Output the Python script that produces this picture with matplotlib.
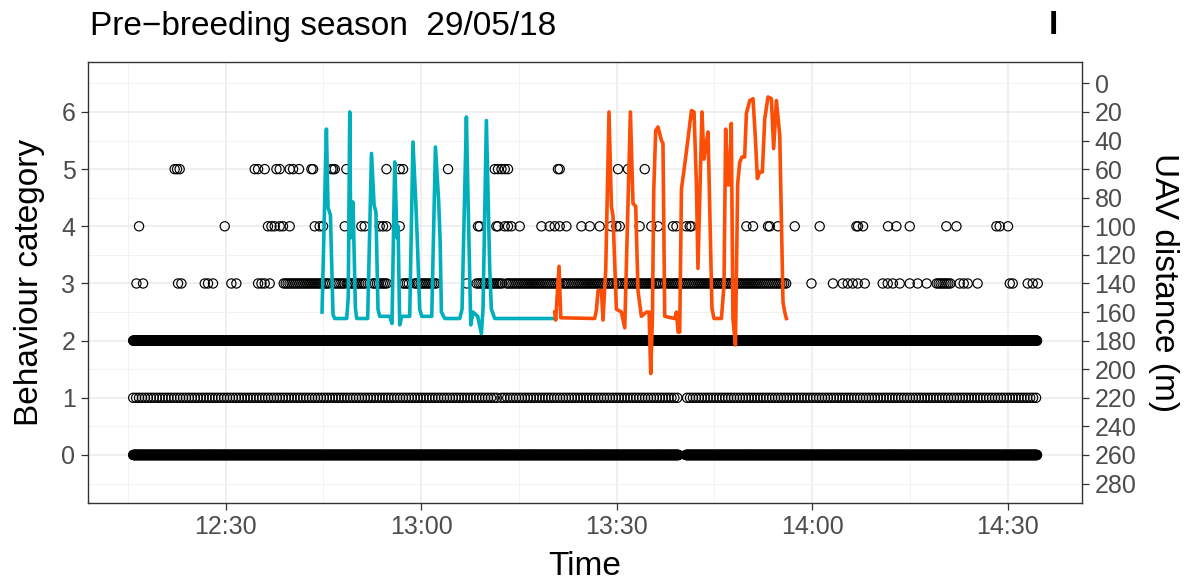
import numpy as np
import matplotlib.pyplot as plt
import matplotlib.dates as mdates

plt.rcParams['font.family'] = ['Liberation Sans', 'DejaVu Sans']

# all times are minutes after 12:00 on 29/05/18
start = np.datetime64('2018-05-29T12:00:00')

# behaviour scans: runs of consecutive records (start, end) per category
cat0_runs = [(15.8, 99.5), (100.6, 154.5)]
cat1_runs = [(15.8, 71.5), (72.3, 99.2), (100.8, 154.5)]
cat2_runs = [(15.8, 154.5)]
cat3_runs = [(38.9, 45.9), (46.7, 48.3), (48.7, 51.3), (52.6, 54.7), (57.2, 58.2),
             (59.0, 62.4), (68.5, 72.5), (73.1, 81.3), (81.7, 89.4), (90.0, 96.6),
             (97.1, 116.1), (139.1, 141.1)]
scan_step = {0: 0.05, 1: 0.45, 2: 0.05, 3: 0.3}

# isolated records
cat3_times = [16.30, 17.31, 22.68, 23.20, 26.78, 27.28, 28.05, 30.87, 31.64, 34.96,
              35.48, 35.98, 36.75, 66.98, 119.88, 123.19, 124.68, 125.45, 126.22,
              126.98, 128.06, 130.82, 131.59, 132.36, 133.43, 134.96, 136.19, 137.57,
              142.63, 143.25, 143.86, 145.39, 150.31, 150.77, 153.07, 153.84, 154.61]
cat4_times = [16.70, 29.85, 36.49, 37.01, 37.52, 38.29, 38.79, 39.82, 43.66, 44.42,
              44.93, 48.26, 50.82, 51.33, 53.63, 54.14, 54.66, 56.70, 68.72, 68.98,
              71.54, 71.79, 72.81, 73.32, 73.84, 75.12, 78.45, 79.72, 80.49, 81.25,
              82.28, 84.58, 85.86, 87.39, 89.19, 89.95, 90.46, 93.52, 95.32, 96.34,
              98.64, 99.16, 100.69, 101.20, 101.46, 109.90, 110.92, 113.22, 113.48,
              114.75, 117.31, 121.15, 126.78, 127.03, 127.80, 131.63, 132.92, 134.96,
              140.59, 142.13, 148.26, 148.77, 150.05]
cat5_times = [22.17, 22.53, 22.94, 34.45, 34.96, 35.98, 37.78, 38.29, 39.82, 40.33,
              41.25, 43.15, 43.40, 46.22, 46.47, 46.73, 48.52, 54.66, 56.70, 57.21,
              64.11, 71.28, 71.78, 72.31, 72.81, 73.32, 80.99, 81.25, 90.20, 91.73,
              94.30]

# UAV distance (m), first and second flight
flight1_min = [44.78, 45.45, 45.70, 46.07, 46.47, 46.73, 48.57, 48.80, 49.03, 49.18,
               49.53, 49.90, 50.10, 51.79, 52.36, 52.76, 53.05, 53.37, 53.63, 55.17,
               55.52, 55.93, 56.29, 56.45, 56.70, 57.01, 58.24, 58.74, 59.16, 59.40,
               59.77, 60.08, 61.61, 62.18, 62.69, 62.90, 63.10, 63.61, 65.91, 66.26,
               66.94, 67.18, 67.60, 67.95, 68.67, 69.24, 69.48, 70.00, 70.51, 70.77,
               71.28, 80.49]
flight1_dist = [160, 32, 87, 92, 162, 164.5, 164.5, 150, 20, 108,
                83, 157, 164.5, 164.5, 49, 85, 90, 158, 163, 163,
                168, 55, 108, 100, 169, 163, 163, 41, 83, 110,
                158, 163, 163, 44.5, 83, 110, 160, 164.5, 164.5, 158,
                23.5, 80, 169, 160, 163, 175, 158, 26, 130, 158,
                164.5, 164.5]
flight2_min = [80.49, 80.64, 81.15, 81.41, 86.62, 86.89, 87.13, 87.65, 87.90, 88.31,
               88.82, 89.19, 89.43, 89.95, 90.72, 91.23, 92.10, 92.50, 92.92, 93.27,
               93.79, 94.56, 94.96, 95.22, 95.48, 95.68, 95.98, 96.34, 96.86, 97.10,
               97.37, 98.90, 99.16, 99.41, 99.67, 99.93, 100.43, 100.94, 101.46, 101.86,
               102.23, 102.47, 103.09, 103.39, 103.65, 104.01, 104.62, 104.93, 106.06, 106.46,
               106.72, 107.07, 107.26, 107.59, 107.84, 108.21, 108.56, 108.89, 109.23, 109.64,
               109.90, 110.41, 110.92, 111.28, 111.59, 111.94, 112.35, 112.71, 113.21, 113.73,
               114.09, 114.50, 115.01, 115.52, 115.78, 116.04]
flight2_dist = [160, 165.6, 128, 164, 164.5, 158.6, 145, 145, 165.6, 130,
                20, 86, 93, 158, 160, 171, 20, 84, 86, 145,
                163, 160, 160, 203, 163, 75, 33, 30.5, 40, 42,
                163, 164.5, 160, 174, 174, 74, 57, 39, 19, 20,
                71, 129.5, 20, 53, 45, 34, 157.5, 164.5, 164.5, 141,
                32, 71, 71, 28, 164.5, 183, 70, 55, 51.5, 51.5,
                21, 12, 10.7, 38.7, 66.6, 62, 62, 24.7, 9.5, 10.7,
                45.6, 12, 36, 153, 160, 164.5]


def to_time(minutes):
    secs = np.round(np.asarray(minutes, dtype=float) * 60).astype('timedelta64[s]')
    return start + secs


def expand(runs, step):
    out = []
    for a, b in runs:
        out.extend(np.arange(a, b + step / 2, step))
    return np.array(out)


# distance axis sits on top of the behaviour scale: 0 m -> 6.5, 260 m -> 0
def dist_to_cat(d):
    return 6.5 - np.asarray(d, dtype=float) / 40.0


def cat_to_dist(c):
    return (6.5 - np.asarray(c, dtype=float)) * 40.0


fig = plt.figure(figsize=(11.92, 5.85), dpi=100)
ax = fig.add_axes([88 / 1192, 1 - 503 / 585, (1082 - 88) / 1192, (503 - 62) / 585])

records = {0: expand(cat0_runs, scan_step[0]),
           1: expand(cat1_runs, scan_step[1]),
           2: expand(cat2_runs, scan_step[2]),
           3: np.concatenate([expand(cat3_runs, scan_step[3]), cat3_times]),
           4: np.array(cat4_times),
           5: np.array(cat5_times)}
for cat, mins in records.items():
    ax.scatter(to_time(mins), np.full(len(mins), cat), s=44, facecolors='none',
               edgecolors='black', linewidths=0.85, zorder=3)

ax.plot(to_time(flight1_min), dist_to_cat(flight1_dist), color='#00AFBB', lw=2.6, zorder=4)
ax.plot(to_time(flight2_min), dist_to_cat(flight2_dist), color='#FC4E07', lw=2.6, zorder=4)

ax.set_xlim(to_time(8.87), to_time(161.4))
ax.set_ylim(-0.84, 6.874)
ax.set_yticks(range(7))
ax.set_yticks(np.arange(-0.5, 7, 1.0), minor=True)
ax.xaxis.set_major_locator(mdates.MinuteLocator(byminute=[0, 30]))
ax.xaxis.set_minor_locator(mdates.MinuteLocator(byminute=[15, 45]))
ax.xaxis.set_major_formatter(mdates.DateFormatter('%H:%M'))

ax.grid(which='major', color='#EBEBEB', lw=1.1, zorder=0)
ax.grid(which='minor', color='#F2F2F2', lw=0.7, zorder=0)
ax.set_axisbelow(True)
for sp in ax.spines.values():
    sp.set_color('#333333')
    sp.set_linewidth(1.0)
ax.tick_params(which='major', length=5, width=0.9, color='#333333',
               labelsize=18, labelcolor='#4D4D4D', pad=4)
ax.tick_params(which='minor', length=0)

sec = ax.secondary_yaxis('right', functions=(cat_to_dist, dist_to_cat))
sec.set_yticks(range(0, 281, 20))
sec.spines['right'].set_visible(False)
sec.tick_params(length=5, width=0.9, color='#333333', labelsize=18,
                labelcolor='#4D4D4D', pad=4)

ax.set_ylabel('Behaviour category', fontsize=24, va='center')
ax.yaxis.set_label_coords(-0.059, 0.5)
ax.set_xlabel('Time', fontsize=24, va='center')
ax.xaxis.set_label_coords(0.5, -0.145)
sec.set_ylabel('UAV distance (m)', fontsize=24, rotation=270, va='center')
sec.yaxis.set_label_coords(1.0815, 0.5, transform=ax.transAxes)

fig.text(90 / 1192, 1 - 27 / 585, 'Pre\u2212breeding season  29/05/18', fontsize=24,
         ha='left', va='center')
fig.text(1053 / 1192, 1 - 25 / 585, 'I', fontsize=24, fontweight='bold',
         ha='center', va='center')

fig.savefig('out.png', dpi=100)
